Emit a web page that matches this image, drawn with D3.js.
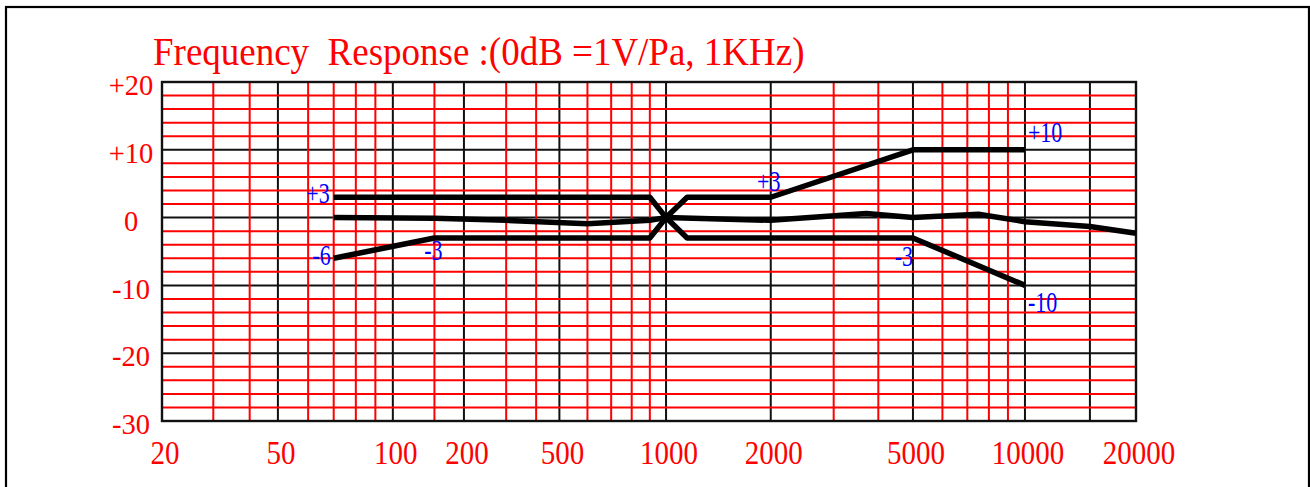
<!DOCTYPE html>
<html>
<head>
<meta charset="utf-8">
<script src="https://cdn.jsdelivr.net/npm/d3@7"></script>
<style>
  html, body { margin: 0; padding: 0; background: #fff; }
  svg { display: block; }
</style>
</head>
<body>
<script>
// données
const tickFreqs = [20, 50, 100, 200, 500, 1000, 2000, 5000, 10000, 20000];
const tickFreqLabels = ["20", "50", "100", "200", "500", "1000", "2000", "5000", "10000", "20000"];
const majorFreqs = [50, 100, 200, 500, 1000, 2000, 5000, 10000, 15000];
const minorFreqs = [30, 40, 60, 70, 80, 90, 150, 300, 400, 600, 700, 800, 900, 3000, 4000, 6000, 7000, 8000, 9000];

const dbTicks = [20, 10, 0, -10, -20, -30];
const dbTickLabels = ["+20", "+10", "0", "-10", "-20", "-30"];
const majorDb = [10, 0, -10, -20];
const minorDb = [18, 16, 14, 12, 8, 6, 4, 2, -2, -4, -6, -8, -12, -14, -16, -18, -22, -24, -26, -28];

const upperFreqs = [70, 900, 1000, 1150, 2000, 5000, 10000];
const upperDb = [3, 3, 0, 3, 3, 10, 10];
const lowerFreqs = [70, 150, 900, 1000, 1150, 5000, 10000];
const lowerDb = [-6, -3, -3, 0, -3, -3, -10];
const respFreqs = [70, 150, 300, 600, 900, 1000, 2000, 3700, 5000, 7500, 10000, 15000, 20000];
const respDb = [0, -0.1, -0.4, -0.9, -0.4, 0, -0.4, 0.6, 0, 0.5, -0.6, -1.3, -2.3];

const noteTexts = ["+3", "-6", "-3", "+3", "+10", "-3", "-10"];
const noteFreqs = [70, 70, 150, 2000, 10000, 5000, 10000];
const noteDb = [3, -6, -3, 3, 10, -3, -10];

const title = "Frequency  Response :(0dB =1V/Pa, 1KHz)";

// mise en page
const W = 1310, H = 487;
const plot = { left: 162, right: 1136, top: 82, bottom: 421 };
const pw = plot.right - plot.left;
// l'axe est une échelle log par morceaux (grille dessinée à la main)
const xStops = [0, 0.119, 0.237, 0.31, 0.408, 0.5175, 0.625, 0.771, 0.886, 1];
// placement des annotations bleues : ancre, dx, dy
const notePlace = [
  ["end", -4, 6], ["end", -3, 7], ["middle", -1, 22], ["middle", -2, -6],
  ["start", 3, -8], ["end", 0, 28], ["start", 3, 27]
];
const serif = "'Liberation Serif', 'Times New Roman', serif";

const svg = d3.select("body").append("svg")
  .attr("width", W)
  .attr("height", H);

// cadre extérieur
svg.append("rect")
  .attr("x", 6).attr("y", 7)
  .attr("width", 1303).attr("height", 520)
  .attr("fill", "none")
  .attr("stroke", "#000")
  .attr("stroke-width", 2.2);

const x = d3.scaleLog()
  .domain(tickFreqs)
  .range(xStops.map((t) => plot.left + t * pw));

const y = d3.scaleLinear()
  .domain([-30, 20])
  .range([plot.bottom, plot.top]);

// titre (un peu étiré en hauteur comme l'original)
svg.append("text")
  .attr("transform", "translate(153,65) scale(1,1.07)")
  .attr("fill", "#ff0000")
  .style("font-family", serif)
  .style("font-size", "37px")
  .style("white-space", "pre")
  .text(title);

const grid = svg.append("g");

// grille noire (décades)
grid.selectAll(".vmaj").data(majorFreqs).enter().append("line")
  .attr("x1", (d) => x(d)).attr("x2", (d) => x(d))
  .attr("y1", plot.top).attr("y2", plot.bottom)
  .attr("stroke", "#111").attr("stroke-width", 2);

grid.selectAll(".hmaj").data(majorDb).enter().append("line")
  .attr("x1", plot.left).attr("x2", plot.right)
  .attr("y1", (d) => y(d)).attr("y2", (d) => y(d))
  .attr("stroke", "#111").attr("stroke-width", 2);

// grille rouge
grid.selectAll(".hmin").data(minorDb).enter().append("line")
  .attr("x1", plot.left).attr("x2", plot.right)
  .attr("y1", (d) => y(d)).attr("y2", (d) => y(d))
  .attr("stroke", "#ff0000").attr("stroke-width", 2);

grid.selectAll(".vmin").data(minorFreqs).enter().append("line")
  .attr("x1", (d) => x(d)).attr("x2", (d) => x(d))
  .attr("y1", plot.top).attr("y2", plot.bottom)
  .attr("stroke", "#ff0000").attr("stroke-width", 2);

// bord du graphique
svg.append("rect")
  .attr("x", plot.left).attr("y", plot.top)
  .attr("width", pw).attr("height", plot.bottom - plot.top)
  .attr("fill", "none")
  .attr("stroke", "#111")
  .attr("stroke-width", 2.4);

// axe Y
const yAxis = svg.append("g")
  .attr("transform", "translate(131,0)")
  .call(d3.axisLeft(y).tickValues(dbTicks).tickSize(0)
    .tickFormat((d, i) => dbTickLabels[i]));
yAxis.select(".domain").remove();
yAxis.selectAll("text")
  .attr("x", 0).attr("dy", "0.36em")
  .attr("transform", "translate(0,2) scale(1,1.05)")
  .attr("text-anchor", "middle")
  .attr("fill", "#ff0000")
  .style("font-family", serif)
  .style("font-size", "28.5px");

// axe X
const xAxis = svg.append("g")
  .attr("transform", "translate(3,466)")
  .call(d3.axisBottom(x).tickValues(tickFreqs).tickSize(0)
    .tickFormat((d, i) => tickFreqLabels[i]));
xAxis.select(".domain").remove();
xAxis.selectAll("text")
  .attr("y", 0).attr("dy", 0)
  .attr("transform", "scale(1,1.15)")
  .attr("fill", "#ff0000")
  .style("font-family", serif)
  .style("font-size", "29px");
xAxis.selectAll(".tick")
  .attr("transform", (d) => "translate(" + x(d) + ",-2)");

// courbes
const line = d3.line()
  .x((d) => x(d[0]))
  .y((d) => y(d[1]));

const curves = [
  d3.zip(upperFreqs, upperDb),
  d3.zip(lowerFreqs, lowerDb),
  d3.zip(respFreqs, respDb),
];

svg.selectAll(".curve").data(curves).enter().append("path")
  .attr("class", "curve")
  .attr("d", line)
  .attr("fill", "none")
  .attr("stroke", "#000")
  .attr("stroke-width", 5.5)
  .attr("stroke-linejoin", "round");

// annotations
svg.selectAll(".note").data(noteTexts).enter().append("text")
  .attr("class", "note")
  .attr("transform", (d, i) =>
    "translate(" + (x(noteFreqs[i]) + notePlace[i][1]) + "," +
    (y(noteDb[i]) + notePlace[i][2]) + ") scale(1,1.3)")
  .attr("text-anchor", (d, i) => notePlace[i][0])
  .attr("fill", "#0000ff")
  .style("font-family", serif)
  .style("font-size", "22px")
  .text((d) => d);
</script>
</body>
</html>
